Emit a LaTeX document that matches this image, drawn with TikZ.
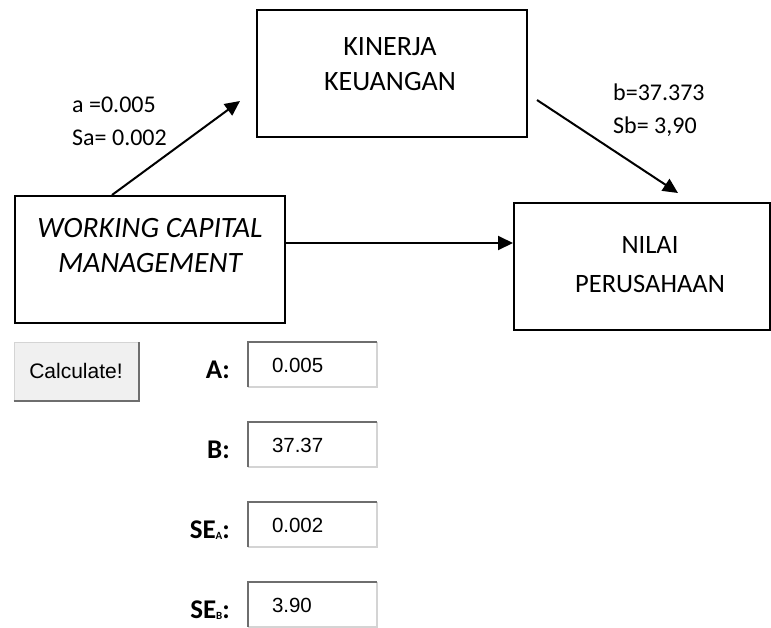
\documentclass[tikz,border=0pt]{standalone}
\usepackage{fontspec}
\setmainfont{Carlito}
\newfontfamily\arialf{Liberation Sans}
\usetikzlibrary{arrows.meta,calc}
\definecolor{btnfill}{HTML}{F0F0F0}
\definecolor{darkedge}{HTML}{6E6E6E}
\definecolor{lightedge}{HTML}{D4D4D4}
\tikzset{
  box/.style={draw=black,line width=2pt,minimum width=270pt,minimum height=127pt,inner sep=0pt},
  boxtext/.style={align=center,inner sep=0pt,anchor=base},
  lbl/.style={font=\fontsize{24}{33}\selectfont,inner sep=0pt,anchor=base west},
  arr/.style={line width=2pt,-{Triangle[length=15pt,width=14pt]}},
  field/.style={fill=white,minimum width=129pt,minimum height=45pt,inner sep=0pt},
  fieldtext/.style={font=\arialf\fontsize{20.5}{20.5}\selectfont,inner sep=0pt,anchor=base west},
  flabel/.style={font=\bfseries\fontsize{27}{27}\selectfont,inner sep=0pt,anchor=base east},
}
\begin{document}
\begin{tikzpicture}[x=1pt,y=-1pt]
\useasboundingbox (0,0) rectangle (771,627);
% boxes
\node[box] (kin) at (392,73.5) {};
\node[box] (wcm) at (150,259.5) {};
\node[box,minimum width=256pt] (nil) at (642,266.5) {};
% box texts (anchored at baseline of last line)
\node[boxtext,font=\fontsize{28}{35}\selectfont] (kint) at (390,90) {KINERJA\\KEUANGAN};
\node[boxtext,font=\itshape\fontsize{29.5}{35}\selectfont] (wcmt) at (150,272) {WORKING CAPITAL\\MANAGEMENT};
\node[boxtext,font=\fontsize{26.5}{39}\selectfont] (nilt) at (650,292) {NILAI\\PERUSAHAAN};
% connectors
\coordinate (a0) at ($(wcm.north west)+(98,0)$);
\coordinate (a1) at (240,101);
\draw[arr] (a0) -- (a1);
\coordinate (b0) at (537,100);
\coordinate (b1) at (678,193);
\draw[arr] (b0) -- (b1);
\coordinate (h0) at ([yshift=16.5pt]wcm.east);
\draw[arr] (h0) -- (h0 -| nil.west);
% path labels
\node[lbl,align=left] (alab) at (72,145) {a =0.005\\Sa= 0.002};
\node[lbl,align=left] (blab) at (613,133) {b=37.373\\Sb= 3,90};
% button
\node[fill=btnfill,draw=lightedge,line width=1pt,minimum width=124pt,minimum height=58pt,inner sep=0pt] (btn) at (76,371) {};
\draw[darkedge,line width=2pt] (btn.south west) -- (btn.south east) -- (btn.north east);
\node[font=\arialf\fontsize{21}{21}\selectfont,inner sep=0pt] (btnt) at (76,371) {Calculate!};
% fields
\foreach \n/\yy/\v in {fa/364.5/0.005, fb/444.5/37.37, fc/524.5/0.002, fd/604.5/3.90}{
  \node[field] (\n) at (312.5,\yy) {};
  \draw[lightedge,line width=1.5pt] (\n.south west) -- (\n.south east) -- (\n.north east);
  \draw[darkedge,line width=2pt] (\n.south west) -- (\n.north west) -- (\n.north east);
  \node[fieldtext] (\n t) at ($(\n.west)+(24,7.5)$) {\v};
}
% field labels
\node[flabel] (la) at (230,378) {A:};
\node[flabel] (lb) at (230,458) {B:};
\node[flabel] (lc) at (230,538) {SE\raisebox{-1pt}{\fontsize{11}{11}\selectfont A}:};
\node[flabel] (ld) at (230,618) {SE\raisebox{-1pt}{\fontsize{11}{11}\selectfont B}:};
\end{tikzpicture}
\end{document}
